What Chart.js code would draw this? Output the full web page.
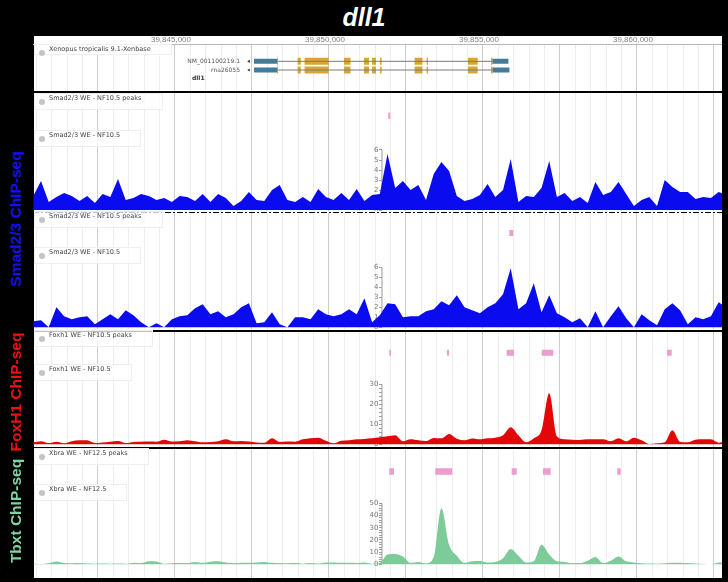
<!DOCTYPE html>
<html>
<head>
<meta charset="utf-8">
<script src="https://cdn.jsdelivr.net/npm/chart.js@4/dist/chart.umd.min.js"></script>
<style>
	body { margin: 0; background: #000; width: 728px; height: 582px; position: relative; overflow: hidden; font-family: 'Liberation Sans', Arial, sans-serif; }
	#title { position: absolute; left: 0; top: 3px; width: 728px; text-align: center; color: #fff; font: bold italic 25px 'Liberation Sans', Arial, sans-serif; }
	#panel { position: absolute; left: 34px; top: 36px; width: 688px; height: 542px; background: #fff; }
	canvas { position: absolute; left: 33px; }
	.sep { position: absolute; left: 33px; width: 689px; background: #000; }
	.dash { position: absolute; left: 33px; width: 689px; height: 1px; top: 212px;
		background: repeating-linear-gradient(to right, #000 0 6px, transparent 6px 8px, #000 8px 10px, transparent 10px 12px); }
	.side { position: absolute; left: 16px; transform: translate(-50%, -50%) rotate(-90deg); white-space: nowrap; font: bold 15.5px 'Liberation Sans', Arial, sans-serif; }
	.lbl { position: absolute; left: 34px; height: 15px; line-height: 15px; padding: 0 20px 0 14px; font: 6.5px 'DejaVu Sans', sans-serif; color: #444; background: rgba(255,255,255,0.75); border: 1px solid #efefef; white-space: nowrap; }
	.lbl:before { content: ''; position: absolute; left: 4px; top: 4.5px; width: 6px; height: 6px; border-radius: 50%; background: #c4c4c4; }
	.tx { position: absolute; font: 6px 'DejaVu Sans', sans-serif; color: #555; white-space: nowrap; }
</style>
</head>
<body>
<div id="title">dll1</div>
<div id="panel"></div>

<canvas id="gene" width="689" height="55" style="top:36px"></canvas>
<canvas id="t1" width="689" height="118" style="top:93px"></canvas>
<canvas id="t2" width="689" height="116" style="top:213px"></canvas>
<canvas id="t3" width="689" height="115" style="top:332px"></canvas>
<canvas id="t4" width="689" height="129" style="top:449px"></canvas>

<div class="sep" style="top:91px;height:2px"></div>
<div class="dash"></div>
<div class="sep" style="top:330px;height:2px"></div>
<div class="sep" style="top:447px;height:2px"></div>

<div class="lbl" style="top:44px;height:9px;line-height:9px">Xenopus tropicalis 9.1-Xenbase</div>
<div class="tx" style="right:488px;top:57px">NM_001100219.1</div>
<div class="tx" style="right:488px;top:66px">rna26055</div>
<div class="tx" style="left:192px;top:74px;font-weight:bold;color:#333">dll1</div>

<div class="lbl" style="top:93px">Smad2/3 WE - NF10.5 peaks</div>
<div class="lbl" style="top:130px">Smad2/3 WE - NF10.5</div>
<div class="lbl" style="top:211px">Smad2/3 WE - NF10.5 peaks</div>
<div class="lbl" style="top:247px">Smad2/3 WE - NF10.5</div>
<div class="lbl" style="top:330px">Foxh1 WE - NF10.5 peaks</div>
<div class="lbl" style="top:364px">Foxh1 WE - NF10.5</div>
<div class="lbl" style="top:448px">Xbra WE - NF12.5 peaks</div>
<div class="lbl" style="top:484px">Xbra WE - NF12.5</div>

<div class="side" style="top:219px;color:#1212ee">Smad2/3 ChIP-seq</div>
<div class="side" style="top:392px;color:#ee1111">FoxH1 ChIP-seq</div>
<div class="side" style="top:511px;color:#7fd3a0">Tbxt ChIP-seq</div>

<script>
// genomic window (chr position)
const xMin = 39840390
const xMax = 39862760
const axisPos = 39851721

// signal bins, 250 bp apart
const binPos = [
	39840400, 39840650, 39840900, 39841150, 39841400, 39841650, 39841900, 39842150, 39842400, 39842650,
	39842900, 39843150, 39843400, 39843650, 39843900, 39844150, 39844400, 39844650, 39844900, 39845150,
	39845400, 39845650, 39845900, 39846150, 39846400, 39846650, 39846900, 39847150, 39847400, 39847650,
	39847900, 39848150, 39848400, 39848650, 39848900, 39849150, 39849400, 39849650, 39849900, 39850150,
	39850400, 39850650, 39850900, 39851150, 39851400, 39851650, 39851900, 39852150, 39852400, 39852650,
	39852900, 39853150, 39853400, 39853650, 39853900, 39854150, 39854400, 39854650, 39854900, 39855150,
	39855400, 39855650, 39855900, 39856150, 39856400, 39856650, 39856900, 39857150, 39857400, 39857650,
	39857900, 39858150, 39858400, 39858650, 39858900, 39859150, 39859400, 39859650, 39859900, 39860150,
	39860400, 39860650, 39860900, 39861150, 39861400, 39861650, 39861900, 39862150, 39862400, 39862650,
	39862900
]

const smadA = [
	1.4, 2.9, 0.8, 1.3, 1.7, 1.4, 0.9, 1.4, 0.7, 1.6,
	1.3, 3.1, 1.0, 1.2, 1.6, 1.4, 1.0, 1.2, 0.8, 1.4,
	1.3, 0.9, 1.6, 0.8, 1.6, 1.2, 0.4, 0.9, 1.8, 1.0,
	0.9, 2.0, 2.5, 1.0, 0.8, 1.3, 0.8, 2.1, 1.3, 1.0,
	1.7, 1.0, 2.1, 0.9, 1.5, 1.6, 5.6, 2.2, 2.9, 2.0,
	2.5, 1.0, 3.6, 4.8, 3.9, 1.4, 0.9, 1.1, 1.5, 2.6,
	1.3, 2.0, 5.1, 0.8, 1.4, 1.3, 2.2, 4.9, 1.3, 1.7,
	0.9, 1.3, 0.7, 2.8, 1.5, 1.8, 2.8, 1.6, 0.4, 1.0,
	1.3, 0.4, 3.0, 2.3, 1.8, 1.8, 1.1, 1.3, 1.2, 1.8,
	1.5
]

const smadB = [
	0.6, 0.7, 0, 2.0, 1.1, 0.8, 1.0, 1.1, 0.3, 0.8,
	1.3, 0.8, 1.7, 1.2, 0.5, 0, 0.4, 0, 0.8, 1.1,
	1.2, 1.9, 2.3, 1.3, 1.6, 1.0, 1.3, 2.0, 2.4, 0.4,
	0.5, 1.5, 0.3, 0, 1.0, 1.0, 0.8, 1.8, 1.3, 1.1,
	1.3, 1.8, 1.3, 2.9, 0.5, 1.2, 2.4, 2.3, 1.0, 1.1,
	1.1, 1.6, 1.8, 2.6, 2.2, 3.2, 2.0, 1.7, 1.4, 2.0,
	2.4, 3.3, 5.9, 1.8, 2.4, 4.4, 1.5, 3.2, 1.4, 1.0,
	0.5, 0.9, 0, 1.6, 0, 1.1, 2.1, 0.9, 0, 1.3,
	0.7, 0.2, 1.8, 2.4, 1.7, 0.3, 1.0, 0.8, 1.1, 2.5,
	2.0
]

const foxh1 = [
	1.0, 1.5, 0.6, 1.3, 0.5, 1.5, 2.0, 2.0, 0.6, 0.9,
	1.3, 1.7, 0.6, 1.2, 1.3, 1.4, 1.3, 2.3, 1.4, 1.5,
	2.0, 1.5, 1.0, 1.2, 1.5, 2.5, 1.5, 1.7, 1.4, 0.9,
	0.8, 3.0, 1.2, 1.4, 1.3, 2.5, 3.0, 3.3, 1.8, 0.5,
	1.8, 2.0, 2.5, 2.7, 3.0, 3.5, 4.0, 4.5, 1.5, 2.5,
	2.0, 1.6, 3.2, 3.0, 5.2, 2.8, 2.0, 2.9, 2.5, 3.0,
	3.3, 4.5, 8.5, 4.5, 1.0, 3.0, 7.0, 25.5, 4.0, 2.5,
	2.3, 2.2, 2.5, 2.5, 2.5, 1.5, 3.0, 1.5, 3.3, 2.0,
	0.1, 0.5, 1.0, 7.0, 1.2, 1.0, 2.3, 2.5, 2.5, 0.8,
	2.0
]

const xbra = [
	0.5, 0.3, 0.8, 2.3, 1.0, 0.8, 1.0, 0.6, 0.5, 0.6,
	0.4, 0.6, 0.4, 1.3, 1.0, 2.5, 2.3, 0.5, 0.8, 1.0,
	1.0, 2.0, 1.2, 2.2, 2.5, 1.5, 1.0, 1.2, 1.3, 1.5,
	2.0, 1.2, 1.0, 0.8, 1.0, 0.5, 1.0, 0.6, 1.5, 1.5,
	1.2, 1.2, 1.0, 1.5, 0.5, 1.0, 8.0, 8.5, 6.5, 1.2,
	2.0, 0.8, 6.0, 46, 16, 7.0, 1.2, 2.5, 2.7, 1.5,
	2.0, 5.0, 12.5, 7.0, 1.5, 2.5, 16, 8.0, 2.5, 2.0,
	1.0, 1.0, 3.0, 6.0, 1.0, 3.0, 6.5, 2.5, 1.5, 0.8,
	0.6, 0.5, 0.8, 1.2, 1.3, 1.0, 0.6, 0.3, 0, 1.5,
	1.5
]

// called peaks [start, end]
const smadAPeaks = [[39851925, 39851990]]
const smadBPeaks = [[39855854, 39855984]]
const foxh1Peaks = [[39851958, 39852013], [39853831, 39853896], [39855769, 39856006], [39856906, 39857282], [39860974, 39861127]]
const xbraPeaks = [[39851958, 39852110], [39853451, 39854003], [39855932, 39856094], [39856948, 39857198], [39859360, 39859471]]

// y scale tick labels
const smadTicks = [0, 1, 2, 3, 4, 5, 6]
const foxh1Ticks = [0, 2, 4, 6, 8, 10, 12, 14, 16, 18, 20, 22, 24, 26, 28, 30]
const xbraTicks = [0, 2, 4, 6, 8, 10, 12, 14, 16, 18, 20, 22, 24, 26, 28, 30, 32, 34, 36, 38, 40, 42, 44, 46, 48, 50]

// gene model dll1
const transcripts = ['NM_001100219.1', 'rna26055']
const intron = [39848312, 39855312]
const utrExons = [[39847565, 39848312], [39855312, 39855825]]
const utrEnd2 = 39855858
const cdsExons = [[39848312, 39848345], [39848981, 39849084], [39849208, 39849990], [39850487, 39850698], [39851136, 39851299],
	[39851396, 39851526], [39851656, 39851708], [39852779, 39853036], [39853169, 39853214], [39854513, 39854828], [39855260, 39855312]]
const strandMark = 39847403

Chart.defaults.font.family = "'DejaVu Sans', sans-serif"

function noPad(s) {
	s.paddingTop = 0
	s.paddingBottom = 0
	s.paddingLeft = 0
	s.paddingRight = 0
}

const gridTicks = []
for (let v = Math.ceil(xMin / 500) * 500; v <= xMax; v += 500) gridTicks.push(v)

function xScale() {
	return {
		type: 'linear', min: xMin, max: xMax,
		ticks: { display: false },
		grid: { color: c => (c.tick && c.tick.value % 2500 === 0 ? '#cdcdcd' : '#ededed'), drawTicks: false },
		border: { display: false },
		afterBuildTicks: s => { s.ticks = gridTicks.map(v => ({ value: v })) },
		afterFit: noPad,
	}
}

function segments(list, y) {
	const pts = []
	list.forEach(p => {
		pts.push({ x: p[0], y: y }, { x: p[1], y: y }, { x: p[1], y: null })
	})
	return pts
}

const baseOpts = {
	responsive: false,
	animation: false,
	devicePixelRatio: 1,
	events: [],
	layout: { padding: 0, autoPadding: false },
	plugins: { legend: { display: false }, tooltip: { enabled: false } },
}

// gene track + ruler
const geneSets = []
transcripts.forEach((t, r) => {
	geneSets.push({ data: [{ x: intron[0], y: r }, { x: intron[1], y: r }], borderColor: '#7a7a7a', borderWidth: 1, pointRadius: 0 })
	const utr = r === 0 ? utrExons : [utrExons[0], [utrExons[1][0], utrEnd2]]
	geneSets.push({ data: segments(utr, r), borderColor: '#437c98', borderWidth: 5, borderCapStyle: 'butt', pointRadius: 0, spanGaps: false })
	geneSets.push({ data: segments(cdsExons, r), borderColor: '#d8a633', borderWidth: 7, borderCapStyle: 'butt', pointRadius: 0, spanGaps: false })
	geneSets.push({ data: [{ x: strandMark, y: r }], showLine: false, pointStyle: 'triangle', pointRotation: 270, pointRadius: 1.8, backgroundColor: '#333', borderWidth: 0 })
})

const geneX = xScale()
geneX.position = 'top'
geneX.border = { display: true, color: '#b8b8b8', width: 1 }
geneX.ticks = {
	display: true, autoSkip: false, maxRotation: 0, padding: 0, labelOffset: -4,
	color: '#808080', font: { size: 8, lineHeight: 1, family: "'Liberation Sans', Arial, sans-serif" },
	callback: v => (v % 5000 === 0 ? v.toLocaleString('en-US') : ''),
}

new Chart(document.getElementById('gene'), {
	type: 'line',
	data: { datasets: geneSets },
	options: Object.assign({}, baseOpts, {
		scales: {
			x: geneX,
			y: { display: false, min: -1.99, max: 3.41, reverse: true },
		},
	}),
})

// signal tracks
function track(id, vals, peaks, color, ticks, every, cfg) {
	new Chart(document.getElementById(id), {
		type: 'line',
		data: {
			datasets: [
				{
					data: binPos.map((x, i) => ({ x: x, y: vals[i] })),
					fill: 'origin', backgroundColor: color, borderWidth: 0, pointRadius: 0,
					cubicInterpolationMode: cfg.smooth ? 'monotone' : 'default', tension: 0,
				},
				{
					data: segments(peaks, cfg.peakY),
					borderColor: '#ec9ccd', borderWidth: cfg.peakH, borderCapStyle: 'butt', pointRadius: 0, spanGaps: false,
				},
				{
					data: [{ x: axisPos, y: 0 }, { x: axisPos, y: ticks[ticks.length - 1] }],
					borderColor: '#9a9a9a', borderWidth: 1, pointRadius: 0,
				},
			],
		},
		options: Object.assign({}, baseOpts, {
			scales: {
				x: xScale(),
				y: {
					type: 'linear', min: cfg.min, max: cfg.max,
					position: { x: axisPos },
					afterBuildTicks: s => { s.ticks = ticks.map(v => ({ value: v })) },
					afterFit: noPad,
					ticks: {
						autoSkip: false, padding: 2, color: '#777', font: { size: 7 },
						callback: v => (v % every === 0 ? v + '\u2002' : ''),
					},
					grid: { drawOnChartArea: false, drawTicks: true, tickLength: 3, tickColor: '#a0a0a0' },
					border: { display: false },
				},
			},
		}),
	})
}

track('t1', smadA, smadAPeaks, '#0b0bf0', smadTicks, 1, { min: -0.1, max: 11.7, peakY: 9.42, peakH: 6.5, smooth: false })
track('t2', smadB, smadBPeaks, '#0b0bf0', smadTicks, 1, { min: -0.17, max: 11.43, peakY: 9.43, peakH: 6, smooth: false })
track('t3', foxh1, foxh1Peaks, '#e20808', foxh1Ticks, 10, { min: -1.35, max: 56.15, peakY: 45.75, peakH: 6, smooth: true })
track('t4', xbra, xbraPeaks, '#7dcb98', xbraTicks, 10, { min: -11.2, max: 94.5, peakY: 76.1, peakH: 6.4, smooth: true })
</script>
</body>
</html>
